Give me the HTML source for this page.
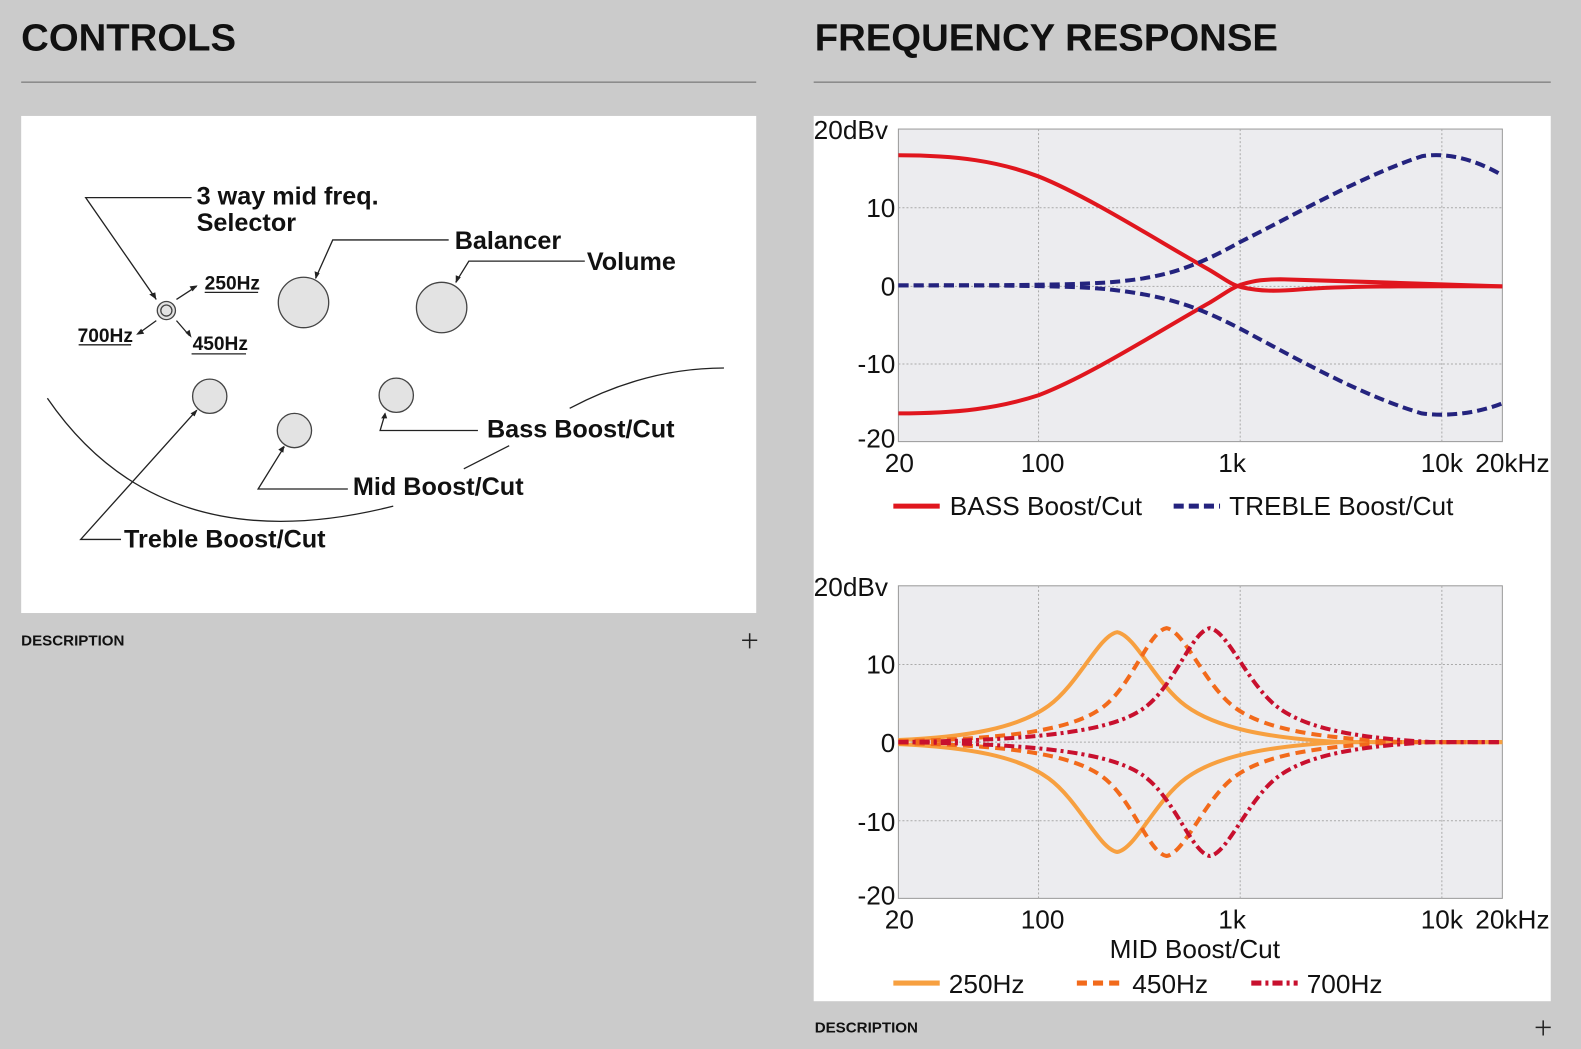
<!DOCTYPE html>
<html><head><meta charset="utf-8"><style>
html,body{margin:0;padding:0;background:#cbcbcb;width:1581px;height:1049px;overflow:hidden;font-family:"Liberation Sans",sans-serif}
svg{position:absolute;left:0;top:0}
</style></head><body>
<svg width="1581" height="1049" viewBox="0 0 1568 1040.4" preserveAspectRatio="none" xmlns="http://www.w3.org/2000/svg">
<g font-family="Liberation Sans, sans-serif" font-weight="bold" fill="#111">
<text x="21" y="50" font-size="38">CONTROLS</text>
<text x="808" y="50" font-size="38">FREQUENCY RESPONSE</text>
<text x="21" y="640" font-size="15">DESCRIPTION</text>
<text x="808" y="1024" font-size="15">DESCRIPTION</text>
</g>
<line x1="21" y1="81.5" x2="750" y2="81.5" stroke="#666" stroke-width="1"/>
<line x1="807" y1="81.5" x2="1538" y2="81.5" stroke="#666" stroke-width="1"/>
<path d="M736,635h15M743.5,628v15M1523,1019h15M1530.5,1012v15" stroke="#222" stroke-width="1.5"/>

<!-- Controls panel -->
<rect x="21" y="115" width="729" height="493" fill="#fff"/>
<g fill="none" stroke="#222" stroke-width="1.3">
<path d="M47,395 Q160,560 390,502"/>
<path d="M565,405 Q640,365 718,365"/>
<path d="M460,465 L505,442"/>
<path d="M190,196 H85 L155,297"/>
<path d="M445,238 H330 L313,276"/>
<path d="M580,259 H465 L452,280"/>
<path d="M474,427 H377 L382,410"/>
<path d="M345,485 H256 L282,443"/>
<path d="M120,535 H80 L195,407"/>
<path d="M175,297 L195,284 M155,318 L137,331 M175,318 L188,333"/>
<path d="M203,290 H256 M78,342 H130 M190,351 H244"/>
</g>
<g fill="#222">
<path d="M155,297 l-7,-5 l6,-2z"/><path d="M313,277 l-1,-8 l5,2z"/><path d="M452,281 l0,-8 l5,2z"/>
<path d="M382,409 l-4,6 l6,0z"/><path d="M282,442 l-6,4 l5,3z"/><path d="M196,406 l-7,4 l4,3z"/>
<path d="M196,283 l-8,1 l3,5z"/><path d="M135,332 l8,-1 l-3,-5z"/><path d="M190,335 l-2,-8 l-4,3z"/>
</g>
<g fill="#e3e3e3" stroke="#444" stroke-width="1.3">
<circle cx="301" cy="300" r="25"/><circle cx="438" cy="305" r="25"/>
<circle cx="208" cy="393" r="17"/><circle cx="292" cy="427" r="17"/><circle cx="393" cy="392" r="17"/>
<circle cx="165" cy="308" r="9"/><circle cx="165" cy="308" r="5.5"/>
</g>
<g font-family="Liberation Sans Narrow, Liberation Sans, sans-serif" font-weight="bold" fill="#111" font-size="25">
<text x="195" y="203">3 way mid freq.</text>
<text x="195" y="229">Selector</text>
<text x="451" y="247">Balancer</text>
<text x="582" y="268">Volume</text>
<text x="483" y="434">Bass Boost/Cut</text>
<text x="350" y="491">Mid Boost/Cut</text>
<text x="123" y="543">Treble Boost/Cut</text>
<text x="203" y="287" font-size="19">250Hz</text>
<text x="77" y="339" font-size="19">700Hz</text>
<text x="191" y="347" font-size="19">450Hz</text>
</g>

<!-- Frequency panel -->
<rect x="807" y="115" width="731" height="878" fill="#fff"/>
<g font-family="Liberation Sans, sans-serif" font-size="26" fill="#111">
<rect x="891" y="128" width="599" height="310" fill="#ececef" stroke="#999" stroke-width="1"/>
<g stroke="#aaa" stroke-width="1" stroke-dasharray="2,2">
<path d="M891,206H1490M891,284H1490M891,361H1490M1030,128V438M1230,128V438M1430,128V438"/>
</g>
<text x="807" y="138">20dBv</text>
<text x="888" y="215" text-anchor="end">10</text>
<text x="888" y="293" text-anchor="end">0</text>
<text x="888" y="370" text-anchor="end">-10</text>
<text x="888" y="444" text-anchor="end">-20</text>
<text x="892" y="468" text-anchor="middle">20</text>
<text x="1034" y="468" text-anchor="middle">100</text>
<text x="1222" y="468" text-anchor="middle">1k</text>
<text x="1430" y="468" text-anchor="middle">10k</text>
<text x="1500" y="468" text-anchor="middle">20kHz</text>
<g fill="none" stroke-width="4">
<path stroke="#e0161e" d="M891,154 C950,154 990,160 1030,175 C1080,195 1150,240 1200,268 C1215,277 1222,283 1232,285 C1250,289 1265,289 1290,287 C1340,283 1430,284 1490,284"/>
<path stroke="#e0161e" d="M891,410 C950,410 990,405 1030,392 C1080,373 1150,328 1200,300 C1215,291 1222,285 1232,282 C1245,278 1255,277 1270,277 C1340,279 1430,282 1490,284"/>
<path stroke="#24237e" stroke-dasharray="10,5" d="M891,283 C980,283 1060,283 1100,280 C1150,276 1180,268 1230,240 C1290,210 1350,175 1410,155 C1440,150 1470,162 1490,174"/>
<path stroke="#24237e" stroke-dasharray="10,5" d="M891,283 C980,283 1060,283 1100,287 C1150,293 1180,300 1230,326 C1290,358 1350,392 1410,410 C1440,414 1470,408 1490,400"/>
</g>
<path d="M886,502H932" stroke="#e0161e" stroke-width="5"/>
<text x="942" y="511">BASS Boost/Cut</text>
<path d="M1164,502H1210" stroke="#24237e" stroke-width="5" stroke-dasharray="10,5"/>
<text x="1219" y="511">TREBLE Boost/Cut</text>

<rect x="891" y="581" width="599" height="310" fill="#ececef" stroke="#999" stroke-width="1"/>
<g stroke="#aaa" stroke-width="1" stroke-dasharray="2,2">
<path d="M891,659H1490M891,736H1490M891,814H1490M1030,581V891M1230,581V891M1430,581V891"/>
</g>
<text x="807" y="591">20dBv</text>
<text x="888" y="668" text-anchor="end">10</text>
<text x="888" y="746" text-anchor="end">0</text>
<text x="888" y="824" text-anchor="end">-10</text>
<text x="888" y="897" text-anchor="end">-20</text>
<text x="892" y="921" text-anchor="middle">20</text>
<text x="1034" y="921" text-anchor="middle">100</text>
<text x="1222" y="921" text-anchor="middle">1k</text>
<text x="1430" y="921" text-anchor="middle">10k</text>
<text x="1500" y="921" text-anchor="middle">20kHz</text>
<text x="1185" y="950" text-anchor="middle">MID Boost/Cut</text>
<g fill="none" stroke-width="4">
<g stroke="#f7a040">
<path d="M891,734 C960,731 1010,722 1040,700 C1070,678 1090,630 1108,627 C1126,630 1146,678 1176,700 C1206,722 1256,732 1330,736 L1490,736"/>
<path d="M891,738 C960,741 1010,750 1040,772 C1070,794 1090,842 1108,845 C1126,842 1146,794 1176,772 C1206,750 1256,740 1330,736 L1490,736"/>
</g>
<g stroke="#f26a1b" stroke-dasharray="10,6">
<path d="M891,735 C1000,733 1063,724 1093,702 C1123,680 1139,626 1157,623 C1175,626 1195,680 1225,702 C1255,724 1310,732 1390,736 L1490,736"/>
<path d="M891,737 C1000,739 1063,748 1093,770 C1123,792 1139,846 1157,849 C1175,846 1195,792 1225,770 C1255,748 1310,740 1390,736 L1490,736"/>
</g>
<g stroke="#c8102e" stroke-dasharray="10,4,3,4">
<path d="M891,736 C1040,734 1105,724 1135,702 C1165,680 1182,626 1200,623 C1218,626 1238,680 1268,702 C1298,724 1350,732 1420,736 L1490,736"/>
<path d="M891,736 C1040,738 1105,748 1135,770 C1165,792 1182,846 1200,849 C1218,846 1238,792 1268,770 C1298,748 1350,740 1420,736 L1490,736"/>
</g>
</g>
<path d="M886,975H932" stroke="#f7a040" stroke-width="5"/>
<text x="941" y="985">250Hz</text>
<path d="M1068,975H1114" stroke="#f26a1b" stroke-width="5" stroke-dasharray="10,6"/>
<text x="1123" y="985">450Hz</text>
<path d="M1241,975H1287" stroke="#c8102e" stroke-width="5" stroke-dasharray="10,4,3,4"/>
<text x="1296" y="985">700Hz</text>
</g>
</svg>
</body></html>
